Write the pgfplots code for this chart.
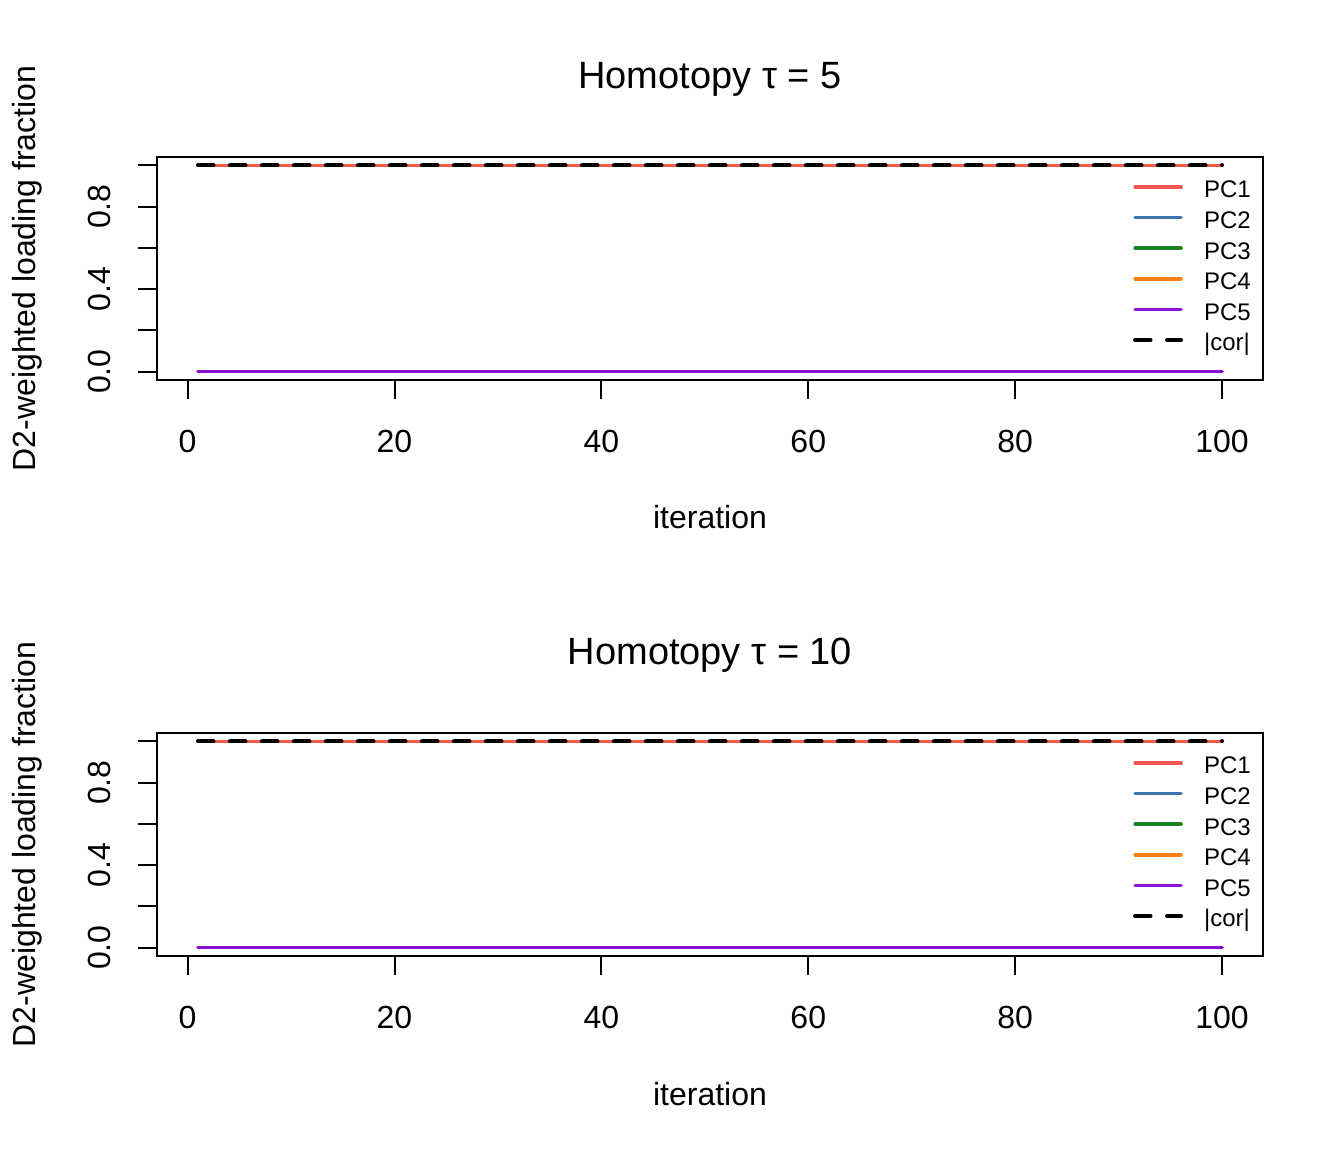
\documentclass[border=0pt]{standalone}
\usepackage{fontspec}
\setmainfont{Liberation Sans}
\usepackage{pgfplots}
\usepackage{pgfplotstable}
\pgfplotsset{compat=1.18}

\definecolor{cPCa}{HTML}{F4574B}
\definecolor{cPCb}{HTML}{3F73AD}
\definecolor{cPCc}{HTML}{228022}
\definecolor{cPCd}{HTML}{FF7F10}
\definecolor{cPCe}{HTML}{8E12DA}

\pgfplotstableread{
it pc1 pc2 pc3 pc4 pc5 cor
1 1 0 0 0 0 1
2 1 0 0 0 0 1
3 1 0 0 0 0 1
4 1 0 0 0 0 1
5 1 0 0 0 0 1
6 1 0 0 0 0 1
7 1 0 0 0 0 1
8 1 0 0 0 0 1
9 1 0 0 0 0 1
10 1 0 0 0 0 1
11 1 0 0 0 0 1
12 1 0 0 0 0 1
13 1 0 0 0 0 1
14 1 0 0 0 0 1
15 1 0 0 0 0 1
16 1 0 0 0 0 1
17 1 0 0 0 0 1
18 1 0 0 0 0 1
19 1 0 0 0 0 1
20 1 0 0 0 0 1
21 1 0 0 0 0 1
22 1 0 0 0 0 1
23 1 0 0 0 0 1
24 1 0 0 0 0 1
25 1 0 0 0 0 1
26 1 0 0 0 0 1
27 1 0 0 0 0 1
28 1 0 0 0 0 1
29 1 0 0 0 0 1
30 1 0 0 0 0 1
31 1 0 0 0 0 1
32 1 0 0 0 0 1
33 1 0 0 0 0 1
34 1 0 0 0 0 1
35 1 0 0 0 0 1
36 1 0 0 0 0 1
37 1 0 0 0 0 1
38 1 0 0 0 0 1
39 1 0 0 0 0 1
40 1 0 0 0 0 1
41 1 0 0 0 0 1
42 1 0 0 0 0 1
43 1 0 0 0 0 1
44 1 0 0 0 0 1
45 1 0 0 0 0 1
46 1 0 0 0 0 1
47 1 0 0 0 0 1
48 1 0 0 0 0 1
49 1 0 0 0 0 1
50 1 0 0 0 0 1
51 1 0 0 0 0 1
52 1 0 0 0 0 1
53 1 0 0 0 0 1
54 1 0 0 0 0 1
55 1 0 0 0 0 1
56 1 0 0 0 0 1
57 1 0 0 0 0 1
58 1 0 0 0 0 1
59 1 0 0 0 0 1
60 1 0 0 0 0 1
61 1 0 0 0 0 1
62 1 0 0 0 0 1
63 1 0 0 0 0 1
64 1 0 0 0 0 1
65 1 0 0 0 0 1
66 1 0 0 0 0 1
67 1 0 0 0 0 1
68 1 0 0 0 0 1
69 1 0 0 0 0 1
70 1 0 0 0 0 1
71 1 0 0 0 0 1
72 1 0 0 0 0 1
73 1 0 0 0 0 1
74 1 0 0 0 0 1
75 1 0 0 0 0 1
76 1 0 0 0 0 1
77 1 0 0 0 0 1
78 1 0 0 0 0 1
79 1 0 0 0 0 1
80 1 0 0 0 0 1
81 1 0 0 0 0 1
82 1 0 0 0 0 1
83 1 0 0 0 0 1
84 1 0 0 0 0 1
85 1 0 0 0 0 1
86 1 0 0 0 0 1
87 1 0 0 0 0 1
88 1 0 0 0 0 1
89 1 0 0 0 0 1
90 1 0 0 0 0 1
91 1 0 0 0 0 1
92 1 0 0 0 0 1
93 1 0 0 0 0 1
94 1 0 0 0 0 1
95 1 0 0 0 0 1
96 1 0 0 0 0 1
97 1 0 0 0 0 1
98 1 0 0 0 0 1
99 1 0 0 0 0 1
100 1 0 0 0 0 1
}\loadings

\pgfplotsset{
  rpanel/.style={
    scale only axis, width=1106pt, height=223pt, anchor=south west,
    xmin=-2.96, xmax=103.96, ymin=-0.04, ymax=1.04,
    axis line style={line width=2pt, black},
    tick align=outside, major tick length=19pt,
    every tick/.style={line width=2pt, black},
    xtick pos=bottom, ytick pos=left,
    xtick={0,20,40,60,80,100},
    ytick={0,0.2,0.4,0.6,0.8,1},
    yticklabels={0.0,,0.4,,0.8,},
    /pgf/number format/assume math mode=true,
    ticklabel style={font=\fontsize{32}{38}\selectfont, inner sep=0pt},
    xticklabel style={anchor=base},
    xticklabel shift=53pt,
    yticklabel style={rotate=90, anchor=base},
    yticklabel shift=27pt,
    label style={font=\fontsize{32}{38}\selectfont, inner sep=0pt},
    xlabel={iteration},
    xlabel style={at={(axis description cs:0.5,0)}, anchor=base, yshift=-149pt},
    ylabel={D2-weighted loading fraction},
    ylabel style={at={(axis description cs:-0.11031,0.5)}, rotate=0, anchor=base},
    title style={at={(axis description cs:0.5,1)}, anchor=base, yshift=62pt,
      font=\fontsize{38}{45}\selectfont, inner sep=0pt},
    legend style={at={(axis description cs:0.8825,0.9341)}, anchor=north west,
      draw=none, fill=none, inner sep=0pt, outer sep=0pt,
      column sep=21pt, row sep=0pt,
      font=\fontsize{24}{28}\selectfont,
      nodes={inner sep=0pt, anchor=west, text height=26.3pt, text depth=4.3pt}},
    legend cell align=left,
    legend image code/.code={\draw[#1] (0pt,0pt) -- (46pt,0pt);},
    legend entries={PC1,PC2,PC3,PC4,PC5,{|cor|}},
    every axis plot/.append style={line width=3.5pt, line cap=round},
  }
}

\begin{document}
\begin{tikzpicture}
\path[use as bounding box] (0pt,0pt) rectangle (1344pt,1152pt);
\begin{axis}[rpanel, at={(157pt,772pt)}, title={Homotopy τ = 5}]
  \addplot[cPCa] table[x=it,y=pc1]{\loadings};
  \addplot[cPCb] table[x=it,y=pc2]{\loadings};
  \addplot[cPCc] table[x=it,y=pc3]{\loadings};
  \addplot[cPCd] table[x=it,y=pc4]{\loadings};
  \addplot[cPCe] table[x=it,y=pc5]{\loadings};
  \addplot[black, line width=4pt, dash pattern=on 15.5pt off 16.5pt] table[x=it,y=cor]{\loadings};
\end{axis}
\begin{axis}[rpanel, at={(157pt,196pt)}, title={Homotopy τ = 10}]
  \addplot[cPCa] table[x=it,y=pc1]{\loadings};
  \addplot[cPCb] table[x=it,y=pc2]{\loadings};
  \addplot[cPCc] table[x=it,y=pc3]{\loadings};
  \addplot[cPCd] table[x=it,y=pc4]{\loadings};
  \addplot[cPCe] table[x=it,y=pc5]{\loadings};
  \addplot[black, line width=4pt, dash pattern=on 15.5pt off 16.5pt] table[x=it,y=cor]{\loadings};
\end{axis}
\end{tikzpicture}
\end{document}
